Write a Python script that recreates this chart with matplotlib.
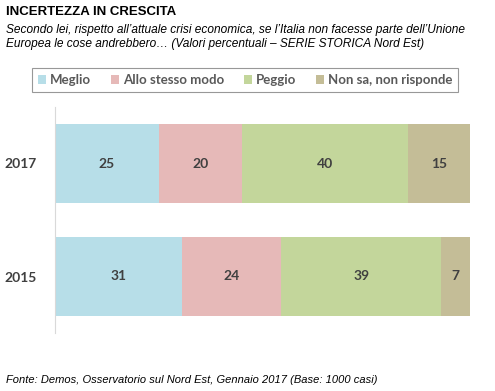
import matplotlib
matplotlib.use("Agg")
import matplotlib.pyplot as plt
from matplotlib.patches import Patch

years = ["2017", "2015"]
categories = ["Meglio", "Allo stesso modo", "Peggio", "Non sa, non risponde"]
values = {
    "Meglio": [25, 31],
    "Allo stesso modo": [20, 24],
    "Peggio": [40, 39],
    "Non sa, non risponde": [15, 7],
}
colors = ["#B7DEE8", "#E6B9B8", "#C3D69B", "#C4BD97"]

title = "INCERTEZZA IN CRESCITA"
subtitle = ("Secondo lei, rispetto all\u2019attuale crisi economica, se l\u2019Italia non facesse parte dell\u2019Unione\n"
            "Europea le cose andrebbero\u2026 (Valori percentuali \u2013 SERIE STORICA Nord Est)")
footer = "Fonte: Demos, Osservatorio sul Nord Est, Gennaio 2017 (Base: 1000 casi)"

fig = plt.figure(figsize=(4.95, 3.91), dpi=100)
ax = fig.add_axes([55/495, 1-333/391, 415/495, 226/391])

totals = [sum(values[c][i] for c in categories) for i in range(len(years))]
ypos = list(range(len(years)))
left = [0.0] * len(years)
for cat, col in zip(categories, colors):
    w = [values[cat][i] / totals[i] * 100 for i in range(len(years))]
    ax.barh(ypos, w, left=left, height=0.70, color=col, edgecolor="none")
    for i in range(len(years)):
        ax.text(left[i] + w[i] / 2, ypos[i], str(values[cat][i]), ha="center", va="center",
                fontsize=10, fontweight="bold", color="#404040", family="Lato")
    left = [left[i] + w[i] for i in range(len(years))]

ax.set_xlim(0, 100)
ax.set_ylim(len(years) - 0.5, -0.5)
ax.set_yticks(ypos)
ax.set_yticklabels(years, fontsize=10, fontweight="bold", color="#404040", family="Lato")
ax.tick_params(axis="y", length=0, pad=13)
ax.set_xticks([])
for s in ["top", "right", "bottom"]:
    ax.spines[s].set_visible(False)
ax.spines["left"].set_color("#D9D9D9")
ax.spines["left"].set_linewidth(0.8)

fig.text(6/495, 1-12/391, title, fontsize=9.5, fontweight="bold", family="Liberation Sans",
         va="center", ha="left", color="#000000")
fig.text(6/495, 1-37/391, subtitle, fontsize=8.6, style="italic", family="Liberation Sans",
         va="center", ha="left", color="#000000", linespacing=1.2)
fig.text(6/495, 1-380/391, footer, fontsize=8.0, style="italic", family="Liberation Sans",
         va="center", ha="left", color="#000000")

handles = [Patch(facecolor=c, edgecolor="none") for c in colors]
leg = fig.legend(handles, categories, ncol=4, loc="center", bbox_to_anchor=(245/495, 1-80/391),
                 prop={"family": "Lato", "weight": "bold", "size": 9.5},
                 frameon=True, fancybox=False, handlelength=0.6, handleheight=0.6,
                 handletextpad=0.3, columnspacing=1.5, borderpad=0.45, borderaxespad=0)
leg.get_frame().set_edgecolor("#7F7F7F")
leg.get_frame().set_linewidth(0.8)
for t in leg.get_texts():
    t.set_color("#595959")

fig.savefig("out.png", dpi=100)
